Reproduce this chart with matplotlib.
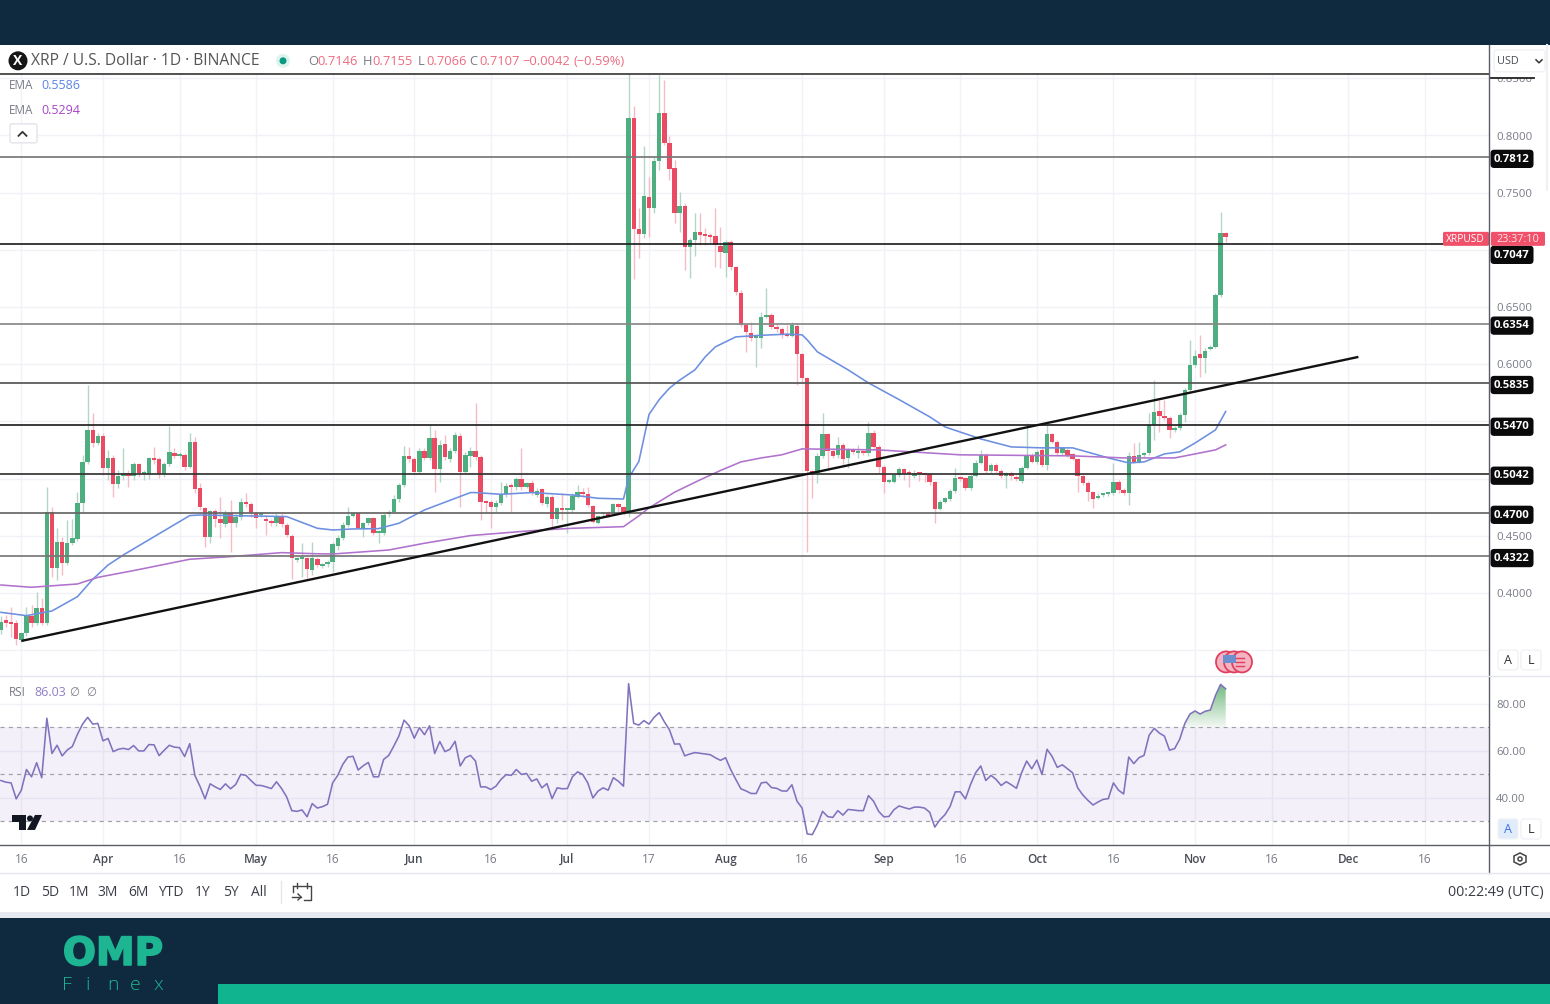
#XRP/USD daily chart with EMA, support/resistance levels and RSI pane
import numpy as np
import matplotlib
matplotlib.use("Agg")
import matplotlib.pyplot as plt
import matplotlib.patheffects as pe
from matplotlib.patches import Rectangle, Polygon, Circle, Ellipse, FancyBboxPatch

plt.rcParams['font.family'] = ['Open Sans', 'DejaVu Sans']

#candles, one per day, first one is 20 days before Apr 1
first_day = -20
opens = [.3676,.3763,.3740,.3734,.3588,.3647,.3798,.3740,.3865,.3740,
         .4705,.4215,.4442,.4259,.4434,.4474,.4783,.5145,.5425,.5308,
         .5372,.5090,.5183,.4953,.5022,.5052,.5022,.5124,.5037,.5040,
         .5177,.5168,.5037,.5127,.5221,.5197,.5206,.5104,.5323,.4915,
         .4746,.4486,.4716,.4644,.4603,.4696,.4614,.4667,.4798,.4778,
         .4702,.4681,.4644,.4629,.4609,.4673,.4594,.4500,.4288,.4294,
         .4302,.4200,.4294,.4235,.4253,.4273,.4413,.4483,.4594,.4673,
         .4696,.4571,.4614,.4652,.4527,.4527,.4687,.4711,.4821,.4944,
         .5200,.5168,.5060,.5244,.5177,.5358,.5084,.5299,.5174,.5241,
         .5375,.5060,.5197,.5244,.5186,.4798,.4792,.4754,.4789,.4862,
         .4935,.4923,.4996,.4929,.4964,.4856,.4906,.4778,.4836,.4644,
         .4740,.4725,.4725,.4842,.4883,.4862,.4763,.4614,.4687,.4708,
         .4702,.4775,.4749,.4700,.8150,.7180,.7139,.7465,.7366,.7780,
         .8194,.7932,.7713,.7325,.7384,.7028,.7081,.7153,.7130,.7124,
         .7121,.7037,.6975,.7072,.6847,.6626,.6343,.6276,.6232,.6226,
         .6416,.6431,.6320,.6305,.6264,.6250,.6334,.6089,.5876,.5060,
         .5046,.5197,.5387,.5244,.5206,.5293,.5177,.5250,.5221,.5235,
         .5221,.5401,.5279,.5104,.4973,.4973,.5031,.5081,.5052,.5025,
         .5046,.5046,.5040,.4967,.4731,.4798,.4821,.4891,.5008,.5002,
         .4920,.5025,.5139,.5206,.5063,.5119,.5069,.5022,.5052,.5016,
         .4981,.5095,.5206,.5145,.5250,.5119,.5387,.5323,.5221,.5250,
         .5215,.5171,.5025,.4964,.4882,.4827,.4856,.4862,.4871,.4973,
         .4900,.4871,.5200,.5148,.5206,.5221,.5465,.5591,.5547,.5532,
         .5425,.5445,.5556,.5774,.5993,.6089,.6051,.6133,.6153,.6605,.7146]
highs = [.3800,.3810,.3880,.3763,.3661,.3880,.3894,.4011,.3953,.4929,
         .4754,.4565,.4492,.4638,.4644,.4885,.5206,.5818,.5570,.5400,
         .5396,.5250,.5206,.5075,.5264,.5075,.5148,.5135,.5075,.5192,
         .5279,.5186,.5140,.5460,.5264,.5230,.5220,.5396,.5366,.4958,
         .4754,.4725,.4731,.4842,.4725,.4813,.4690,.4827,.4877,.4798,
         .4710,.4711,.4681,.4650,.4696,.4696,.4609,.4515,.4317,.4434,
         .4317,.4442,.4317,.4259,.4288,.4448,.4506,.4623,.4754,.4711,
         .4711,.4623,.4667,.4667,.4550,.4696,.4725,.4856,.4958,.5288,
         .5279,.5192,.5264,.5264,.5468,.5425,.5337,.5381,.5264,.5410,
         .5395,.5235,.5279,.5658,.5206,.4813,.4813,.4813,.4973,.4958,
         .4958,.5017,.5264,.4973,.4987,.4915,.4915,.4856,.4856,.4754,
         .4871,.4740,.4871,.4944,.4915,.4929,.4769,.4681,.4711,.4720,
         .4790,.4783,.4760,.8600,.8258,.7363,.7903,.7640,.7815,.8529,
         .8486,.7990,.7786,.7509,.7407,.7101,.7320,.7320,.7188,.7145,
         .7363,.7203,.7086,.7086,.6859,.6649,.6358,.6372,.6256,.6460,
         .6664,.6445,.6358,.6328,.6343,.6372,.6357,.6101,.5891,.5075,
         .5221,.5570,.5401,.5264,.5366,.5308,.5264,.5264,.5293,.5250,
         .5497,.5425,.5293,.5119,.4996,.5046,.5098,.5090,.5075,.5075,
         .5060,.5052,.5052,.4981,.4812,.4842,.4906,.5089,.5022,.5016,
         .5046,.5162,.5250,.5221,.5133,.5133,.5081,.5057,.5063,.5031,
         .5110,.5489,.5221,.5250,.5264,.5468,.5401,.5337,.5279,.5264,
         .5226,.5183,.5037,.4976,.4894,.4871,.4877,.4882,.5133,.4987,
         .4914,.5235,.5308,.5323,.5235,.5570,.5862,.5687,.5687,.5547,
         .5460,.5570,.5789,.6212,.6124,.6255,.6139,.6168,.6620,.7334,.7155]
lows = [.3640,.3700,.3617,.3545,.3570,.3620,.3700,.3715,.3720,.3720,
        .4142,.4113,.4157,.4240,.4420,.4450,.4696,.5130,.5279,.5290,
        .5031,.4987,.4842,.4915,.4987,.4923,.4987,.5017,.4990,.4993,
        .5130,.5002,.5010,.5110,.5180,.5180,.5075,.5090,.4871,.4725,
        .4404,.4434,.4579,.4477,.4579,.4361,.4579,.4638,.4754,.4667,
        .4565,.4661,.4506,.4585,.4585,.4580,.4486,.4122,.4273,.4142,
        .4128,.4157,.4230,.4220,.4230,.4186,.4375,.4463,.4579,.4661,
        .4565,.4492,.4594,.4506,.4434,.4506,.4667,.4696,.4798,.4929,
        .5140,.5046,.5046,.5162,.5162,.4885,.4973,.5162,.5148,.5221,
        .4754,.5046,.5104,.5162,.4638,.4711,.4565,.4711,.4769,.4842,
        .4711,.4900,.4900,.4915,.4856,.4842,.4769,.4754,.4579,.4609,
        .4638,.4521,.4711,.4827,.4842,.4754,.4609,.4603,.4673,.4667,
        .4680,.4711,.4680,.4660,.6742,.6926,.7101,.7115,.7320,.7698,
        .7917,.7611,.7232,.7159,.6824,.6751,.6941,.7043,.7043,.7057,
        .6853,.6839,.6766,.6824,.6605,.6328,.6110,.6206,.5979,.6139,
        .6401,.6305,.6285,.6226,.6241,.6241,.5818,.5847,.4361,.4827,
        .4962,.5177,.5089,.5177,.5177,.5119,.5089,.5215,.5177,.5206,
        .5197,.5250,.5046,.4871,.4958,.4958,.5016,.4987,.4929,.5002,
        .4982,.4973,.4944,.4608,.4725,.4783,.4807,.4877,.4981,.4900,
        .4900,.5011,.5127,.5051,.5046,.5051,.5002,.4914,.4987,.4981,
        .4964,.5081,.5133,.5127,.5104,.5075,.5308,.5206,.5206,.5185,
        .5162,.4885,.4944,.4807,.4740,.4818,.4842,.4847,.4856,.4871,
        .4856,.4769,.5133,.5133,.5192,.5206,.5337,.5410,.5512,.5352,
        .5410,.5425,.5498,.5760,.5978,.5891,.5920,.6124,.6139,.6590,.7066]
closes = [.3749,.3734,.3731,.3594,.3647,.3798,.3740,.3865,.3740,.4705,
          .4215,.4442,.4259,.4434,.4483,.4789,.5145,.5425,.5308,.5372,
          .5090,.5183,.4953,.5022,.5046,.5022,.5124,.5052,.5046,.5177,
          .5162,.5037,.5127,.5229,.5197,.5206,.5104,.5323,.4909,.4749,
          .4486,.4716,.4644,.4609,.4696,.4614,.4667,.4792,.4778,.4696,
          .4652,.4687,.4632,.4609,.4673,.4600,.4506,.4302,.4308,.4302,
          .4206,.4302,.4244,.4244,.4273,.4425,.4483,.4594,.4673,.4696,
          .4571,.4614,.4652,.4527,.4533,.4681,.4711,.4821,.4944,.5200,
          .5168,.5060,.5244,.5183,.5358,.5084,.5294,.5186,.5241,.5381,
          .5060,.5206,.5244,.5186,.4798,.4789,.4749,.4789,.4862,.4935,
          .4923,.4996,.4929,.4958,.4871,.4894,.4783,.4836,.4644,.4740,
          .4725,.4731,.4848,.4883,.4865,.4769,.4623,.4673,.4696,.4673,
          .4778,.4754,.4705,.8156,.7180,.7139,.7474,.7366,.7780,.8194,
          .7932,.7710,.7325,.7384,.7028,.7081,.7153,.7130,.7118,.7115,
          .7043,.6978,.7066,.6847,.6629,.6343,.6279,.6232,.6241,.6416,
          .6425,.6323,.6305,.6261,.6250,.6343,.6089,.5876,.5066,.5046,
          .5197,.5387,.5244,.5200,.5293,.5171,.5250,.5229,.5235,.5221,
          .5395,.5279,.5104,.4973,.4987,.5031,.5081,.5040,.5040,.5052,
          .5040,.5031,.4967,.4731,.4798,.4827,.4891,.5002,.4996,.4920,
          .5025,.5139,.5206,.5063,.5119,.5063,.5022,.5046,.5022,.4993,
          .5095,.5206,.5145,.5235,.5116,.5387,.5323,.5221,.5264,.5200,
          .5171,.5025,.4958,.4882,.4821,.4847,.4865,.4871,.4973,.4900,
          .4871,.5200,.5142,.5206,.5221,.5465,.5582,.5550,.5527,.5425,
          .5445,.5553,.5774,.5993,.6075,.6051,.6118,.6153,.6605,.7144,.7107]
rsi = [47.4,46.7,46.4,39.6,43.3,52.1,49,55,48.6,73.9,
       58.9,62.4,57.9,60.4,61.9,67.1,71.4,74.3,71.4,71.7,
       64.3,65.3,59.7,60.7,61.1,60.6,62.3,60,60,62.7,
       62.6,58,60.3,62.4,61.6,61.4,57.6,63.1,49.6,45,
       39.6,46,44.7,43.6,46,43.9,45.7,50,49.6,47.4,
       45.4,45.3,44.7,44,46.9,44,40.4,34.6,34.3,34.9,
       32,37.6,35.7,36.3,37.3,46.4,49.6,54.3,57.4,57.7,
       51.9,53.7,55.1,49,49,56.4,58.1,62.1,66.4,73.1,
       70.7,65.4,69.9,66.9,70.7,58.9,64,59.7,60.7,64.1,
       53.6,57.1,58.1,55.7,44.7,44.7,43.6,45,47.9,49.9,
       49.6,52.1,50,50.4,47.1,48.1,44.3,46.1,39.7,44.3,
       43.9,44,49,51.1,50,46.4,40,42.9,44.3,43.3,
       48.6,47.1,45,88.6,71.7,71,72.9,71.4,74.3,76.3,
       72.4,69,62.9,63,57.9,58.7,59.3,59,58.7,58.4,
       57.1,56,57.1,52.1,47.9,43.9,43,41.9,41.9,46.4,
       46.7,44.4,44.1,43,42.9,45.6,38.6,35.7,24.7,24.4,
       28.6,34.3,32.1,31.7,34.6,32.7,35.1,34.9,34.6,34.6,
       41,38.6,34.3,32,32.1,35,36.6,35.9,35.3,36.1,
       36.1,35.7,33.9,27.6,30.7,32.9,36.4,42.6,42.6,39.6,
       45.7,50.7,53.6,47.4,49.6,47.9,45.3,46.9,45.6,44.1,
       50.7,55.7,52.4,56.1,50,60.7,57.6,53,54.1,52.4,
       50.7,44.3,41.3,39,37,38.3,39.4,39.7,46.4,43.3,
       41.7,57.4,54.6,57.1,58.1,66.7,69.6,67.6,66.3,60.3,
       61,65,71.7,75.7,77,75.7,76.9,77.4,83.6,88.3,86.4]

#the two EMAs, read at their bends
ema1_days = [-20,-15,-10,-5,-2,1,4,17,19,36,42,45,49,54,58,63,72,73,78,84,92,97,102,103,105,107,109,111,113,116,118,120,124,128,134,137,138,140,146,150,156,162,165,172,178,184,190,197,201,204,208,211,214,218,220]
ema1_vals = [.3830,.3801,.3842,.3967,.4119,.4244,.4332,.4676,.4681,.4667,.4565,.4550,.4559,.4562,.4609,.4725,.4877,.4877,.4862,.4877,.4856,.4827,.4821,.5005,.5148,.5560,.5690,.5790,.5860,.5950,.6063,.6151,.6238,.6250,.6262,.6256,.6212,.6107,.5950,.5836,.5690,.5539,.5451,.5346,.5276,.5268,.5268,.5180,.5136,.5145,.5215,.5233,.5310,.5425,.5586]
ema2_days = [-20,-14,-5,-1,6,17,25,35,42,45,56,63,72,84,92,102,105,107,112,117,121,125,129,133,137,152,168,190,200,210,218,220]
ema2_vals = [.4069,.4049,.4078,.4136,.4195,.4294,.4317,.4352,.4342,.4340,.4375,.4434,.4501,.4544,.4565,.4579,.4673,.4743,.4880,.4988,.5070,.5145,.5180,.5207,.5259,.5250,.5207,.5198,.5180,.5180,.5250,.5294]

#drawn levels and trend line
levels = [.7812,.7047,.6354,.5835,.5470,.5042,.4700,.4322]
level_colors = ['#777777','#222222','#888888','#555555','#222222','#333333','#666666','#777777']
trend_days = [-16,246]
trend_vals = [.3580,.6063]

price_ticks = [.85,.80,.75,.70,.65,.60,.55,.50,.45,.40,.35]
price_labels = ['0.8500','0.8000','0.7500','','0.6500','0.6000','','','0.4500','0.4000','']
rsi_ticks = [80,60,40]
rsi_labels = ['80.00','60.00','40.00']
time_ticks = [-16,0,15,30,45,61,76,91,107,122,137,153,168,183,198,214,229,244,259]
time_labels = ['16','Apr','16','May','16','Jun','16','Jul','17','Aug','16','Sep','16','Oct','16','Nov','16','Dec','16']
months = ['Apr','May','Jun','Jul','Aug','Sep','Oct','Nov','Dec']
range_buttons = ['1D','5D','1M','3M','6M','YTD','1Y','5Y','All']
range_x = [22,50,79,108,138,171,203,231,259]

W, H = 1550, 1004
navy = '#0f2a3e'
teal = '#10b48e'
green = '#4fae7f'
red = '#ea4a62'
grid = '#f0f2f7'
gray = '#787b86'
dark = '#4a4d57'

def pane(x0, y0, x1, y1):
    return fig.add_axes([x0/W, 1-y1/H, (x1-x0)/W, (y1-y0)/H])

#10.04*100 truncates to 1003 pixels, so nudge it
fig = plt.figure(figsize=(W/100, (H+.2)/100), dpi=100, facecolor='white')

days = np.arange(first_day, first_day+len(closes))
opens, highs, lows, closes = map(np.array, (opens, highs, lows, closes))
up = closes >= opens

#price pane
ax = pane(0, 74, 1489, 676)
xlim = (-20.18, 271.6)
ax.set_xlim(xlim)
ax.set_ylim(.3274, .8538)
ax.set_xticks(time_ticks)
ax.set_yticks(price_ticks)
ax.set_yticklabels(price_labels)
ax.yaxis.tick_right()
ax.tick_params(axis='y', length=0, labelsize=8.2, labelcolor=gray, pad=5)
ax.tick_params(axis='x', length=0, labelbottom=False)
ax.grid(True, color=grid, lw=1)
ax.set_axisbelow(True)
for s in ax.spines.values():
    s.set_visible(False)

ax.vlines(days[up], lows[up], highs[up], color='#b5d6c6', lw=1, zorder=2)
ax.vlines(days[~up], lows[~up], highs[~up], color='#f5bcc6', lw=1, zorder=2)
heights = np.maximum(np.abs(closes-opens), .0016)
bottoms = np.minimum(opens, closes)
ax.bar(days[up], heights[up], bottom=bottoms[up], width=.86, color=green, zorder=3)
ax.bar(days[~up], heights[~up], bottom=bottoms[~up], width=.86, color=red, zorder=3)

ax.plot(ema1_days, ema1_vals, color='#6c8fe0', lw=1.15, zorder=4)
ax.plot(ema2_days, ema2_vals, color='#b072cc', lw=1.15, zorder=4)
for lvl, col in zip(levels, level_colors):
    ax.axhline(lvl, color=col, lw=1.25, zorder=5)
    shift = -10.5 if lvl == .7047 else -2
    ax.annotate(f'{lvl:.4f}', xy=(1, lvl), xycoords=ax.get_yaxis_transform(),
                xytext=(23/1.389, shift/1.389), textcoords='offset points',
                ha='center', va='center', fontsize=8.2, fontweight='bold', color='white',
                annotation_clip=False, zorder=8,
                bbox=dict(boxstyle='round,pad=0.32', fc='#0a0a0a', ec='none'))
ax.plot(trend_days, trend_vals, color='#111111', lw=1.7, zorder=6, solid_capstyle='butt')

#rsi pane
ax2 = pane(0, 676, 1489, 845)
ax2.set_xlim(xlim)
ax2.set_ylim(20, 91.9)
ax2.set_yticks(rsi_ticks)
ax2.set_yticklabels(rsi_labels)
ax2.yaxis.tick_right()
ax2.tick_params(axis='y', length=0, labelsize=8.2, labelcolor=gray, pad=5)
ax2.set_xticks(time_ticks)
ax2.set_xticklabels(time_labels)
ax2.tick_params(axis='x', length=0, labelsize=8.5, labelcolor=gray, pad=5.5)
for t in ax2.get_xticklabels():
    if t.get_text() in months:
        t.set_color(dark)
        t.set_fontweight('semibold')
ax2.grid(True, color=grid, lw=1)
ax2.set_axisbelow(True)
for s in ax2.spines.values():
    s.set_visible(False)
ax2.axhspan(30, 70, color='#7e57c2', alpha=.085, lw=0, zorder=1)
for v in (70, 50, 30):
    ax2.axhline(v, color='#a0a0a8', lw=.85, ls=(0, (3.5, 3.5)), zorder=2)
rsi = np.array(rsi)
#overbought fill fades down towards the 70 line
ob = rsi > 70
ob[:days.searchsorted(212)] = False
poly = ax2.fill_between(days, 70, rsi, where=ob, color='none', lw=0)
fade = np.linspace(1, 0, 64).reshape(-1, 1, 1)*np.array([.42, .72, .48]) + np.linspace(0, 1, 64).reshape(-1, 1, 1)*np.array([.95, .97, .95])
img = ax2.imshow(fade, extent=(212, 220, 70, 89), aspect='auto', zorder=2, origin='upper')
img.set_clip_path(poly.get_paths()[0], poly.get_transform())
ax2.set_xlim(xlim)
ax2.set_ylim(20, 91.9)
ax2.plot(days, rsi, color='#8272bd', lw=1.15, zorder=3)

#everything around the panes, in pixels
ov = fig.add_axes([0, 0, 1, 1], facecolor='none')
ov.set_xlim(0, W)
ov.set_ylim(H, 0)
ov.axis('off')
ov.add_patch(Rectangle((0, 0), W, 45, fc=navy, ec='none'))
ov.add_patch(Rectangle((0, 45), W, 29, fc='white', ec='none'))
ov.add_patch(Rectangle((1490, 45), 60, 33, fc='white', ec='none'))
ov.add_patch(Rectangle((0, 912), W, 6, fc='#e6eaf0', ec='none'))
ov.add_patch(Rectangle((0, 918), W, 86, fc=navy, ec='none'))
ov.add_patch(Rectangle((218, 984), W-218, 20, fc=teal, ec='none'))
ov.plot([0, 1489], [74, 74], color='#222222', lw=1.1)
ov.plot([1490, 1534], [78.5, 78.5], color='#222222', lw=1.3)
ov.plot([1489, 1489], [45, 873], color='#5a5d66', lw=1)
ov.plot([0, W], [845, 845], color='#5a5d66', lw=1)
ov.plot([0, W], [676, 676], color='#e4e6ec', lw=1)
ov.plot([0, W], [873, 873], color='#e4e6ec', lw=1)

#title row
ov.add_patch(Circle((18, 61), 9.5, fc='#161616', ec='none'))
ov.text(18, 60.5, 'X', color='white', fontsize=10, fontweight='bold', ha='center', va='center')
ov.text(31, 61, 'XRP / U.S. Dollar · 1D · BINANCE', color='#555555', fontsize=11.25, va='center')
ov.add_patch(Circle((283, 61), 7, fc='#dff3ee', ec='none'))
ov.add_patch(Circle((283, 61), 3.5, fc='#089981', ec='none'))
ohlc_x = [308, 317, 363, 372, 418, 426, 469, 479, 522, 573]
ohlc_txt = ['O', '0.7146', 'H', '0.7155', 'L', '0.7066', 'C', '0.7107', '−0.0042', '(−0.59%)']
for x, t in zip(ohlc_x, ohlc_txt):
    ov.text(x, 61, t, color=gray if t in 'OHLC' else '#ee6b7f', fontsize=9.3, va='center')
ov.text(9, 85, 'EMA', color=gray, fontsize=8.5, va='center')
ov.text(41, 85, '0.5586', color='#5b84e6', fontsize=9, va='center')
ov.text(9, 110, 'EMA', color=gray, fontsize=8.5, va='center')
ov.text(41, 110, '0.5294', color='#a944c4', fontsize=9, va='center')
ov.add_patch(FancyBboxPatch((10, 124), 27, 19, boxstyle='round,pad=0,rounding_size=2', fc='white', ec='#e2e4ea', lw=1))
ov.plot([18.5, 22.5, 26.5], [136, 132, 136], color='#333333', lw=1.3)

#price side tags and buttons
ov.add_patch(FancyBboxPatch((1443, 232), 46, 14, boxstyle='round,pad=0,rounding_size=1.5', fc='#f0506a', ec='none'))
ov.text(1465.5, 239, 'XRPUSD', color='white', fontsize=7.4, ha='center', va='center')
ov.add_patch(FancyBboxPatch((1491, 232), 54, 14, boxstyle='round,pad=0,rounding_size=1.5', fc='#f0506a', ec='none'))
ov.text(1518, 239, '23:37:10', color='#ffe4e8', fontsize=7.8, ha='center', va='center')
ov.add_patch(FancyBboxPatch((1494, 50), 51, 22, boxstyle='round,pad=0,rounding_size=3', fc='white', ec='#f1f2f6', lw=1))
ov.text(1497, 61, 'USD', color=dark, fontsize=7.8, va='center')
ov.plot([1536, 1539, 1542], [60, 63, 60], color='#333333', lw=1.1)
ov.plot([1547, 1547], [45, 190], color='#eef0f4', lw=1.5)
for x, y, t, c, f in [(1508, 660, 'A', '#333333', 'white'), (1531, 660, 'L', '#333333', 'white'),
                      (1508, 829, 'A', '#3d6fe8', '#e1ecfb'), (1531, 829, 'L', '#333333', 'white')]:
    ov.add_patch(FancyBboxPatch((x-10, y-10), 20, 20, boxstyle='round,pad=0,rounding_size=3', fc=f, ec='#f1f2f6', lw=1))
    ov.text(x, y, t, color=c, fontsize=9, ha='center', va='center')
ov.add_patch(Polygon([(1520, 853), (1526, 856), (1526, 862), (1520, 865), (1514, 862), (1514, 856)], fc='white', ec='#444444', lw=1.1))
ov.add_patch(Circle((1520, 859), 2, fc='white', ec='#444444', lw=1.1))

#economic event marker
for x in (1226, 1234, 1242):
    ov.add_patch(Ellipse((x, 662), 20, 21, fc='#f4b3c1', ec='#e0405f', lw=1.3))
ov.add_patch(Rectangle((1223, 655), 13, 8, fc='#6d8fd0', ec='none'))
for y in (658, 662, 666):
    ov.plot([1236, 1244], [y, y], color='#e0405f', lw=1)

#rsi legend and logo
ov.text(9, 692, 'RSI', color=gray, fontsize=8.5, va='center')
ov.text(34, 692, '86.03', color='#8f7fc7', fontsize=9, va='center')
ov.text(74, 692, '∅', color=gray, fontsize=8.3, va='center', ha='center')
ov.text(91, 692, '∅', color=gray, fontsize=8.3, va='center', ha='center')
ov.add_patch(Polygon([(12, 815), (26, 815), (26, 830), (19, 830), (19, 822), (12, 822)], fc='#131722', ec='none'))
ov.add_patch(Circle((30, 818.5), 3, fc='#131722', ec='none'))
ov.add_patch(Polygon([(35, 815), (42, 815), (35, 830), (27, 830)], fc='#131722', ec='none'))

#bottom toolbar
for x, t in zip(range_x, range_buttons):
    ov.text(x, 892, t, color='#3a3d46', fontsize=10, ha='center', va='center')
ov.plot([281, 281], [881, 903], color='#e4e6ec', lw=1)
ov.plot([293, 311, 311, 304], [886, 886, 900, 900], color='#444444', lw=1)
ov.plot([293, 293], [886, 892], color='#444444', lw=1)
ov.plot([297, 297], [883, 888], color='#444444', lw=1)
ov.plot([307, 307], [883, 888], color='#444444', lw=1)
ov.plot([292, 301], [897, 897], color='#444444', lw=1)
ov.plot([298, 301, 298], [894, 897, 900], color='#444444', lw=1)
ov.text(1544, 892, '00:22:49 (UTC)', color='#3a3d46', fontsize=10.3, ha='right', va='center')

#footer brand
ov.text(113, 965, 'OMP', color='#1db592', fontsize=28, fontweight='bold', family='DejaVu Sans', ha='center', va='baseline',
        path_effects=[pe.withStroke(linewidth=1.2, foreground='#1db592')])
for x, t in zip([67, 88, 113, 135, 158], 'Finex'):
    ov.text(x, 990, t, color='#1db592', fontsize=14, fontweight='light', ha='center', va='baseline')

fig.savefig('out.png', dpi=100, facecolor='white')
